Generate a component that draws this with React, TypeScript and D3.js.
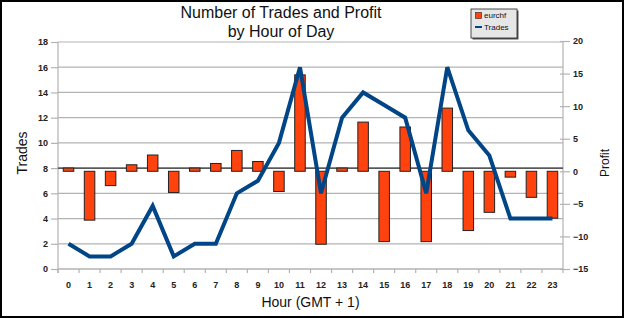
import { useEffect, useRef } from "react";
import * as d3 from "d3";

const hours = d3.range(0, 24).map(String);
const trades = [2, 1, 1, 2, 5, 1, 2, 2, 6, 7, 10, 16, 6, 12, 14, 13, 12, 6, 16, 11, 9, 4, 4, 4];
const profit = [
  0.5, -7.5, -2.2, 1, 2.5, -3.25, 0.5, 1.2, 3.2, 1.5, -3.1, 14.8, -11.2, 0.5, 7.55, -10.8, 6.8,
  -10.8, 9.7, -9.1, -6.3, -0.9, -4.0, -7.2,
];
const tradeTicks = d3.range(0, 19, 2);
const profitTicks = [-15, -10, -5, 0, 5, 10, 15, 20];

const width = 625;
const height = 318;
const margin = { top: 42, right: 62, bottom: 49, left: 58 };

const BAR_COLOR = "#ff420e";
const LINE_COLOR = "#004586";
const GRID = "#b3b3b3";
const FONT = "'Liberation Sans', Arial, sans-serif";

const App = () => {
  const svgRef = useRef<SVGSVGElement | null>(null);

  useEffect(() => {
    const svg = d3.select(svgRef.current);
    svg.selectAll("*").remove();

    const x0 = margin.left;
    const x1 = width - margin.right;
    const yBottom = height - margin.bottom;

    const x = d3.scaleBand().domain(hours).range([x0, x1]).paddingInner(0.5).paddingOuter(0.25);
    const xEdges = d3.scaleBand().domain(hours).range([x0, x1]);
    const yTrades = d3.scaleLinear().domain([0, 18]).range([yBottom, margin.top]);
    const yProfit = d3.scaleLinear().domain([-15, 20]).range([yBottom, margin.top - 1]);

    svg.append("rect").attr("width", width).attr("height", height).attr("fill", "white");

    // horizontal grid
    svg
      .append("g")
      .selectAll("line")
      .data(tradeTicks)
      .join("line")
      .attr("x1", x0)
      .attr("x2", x1)
      .attr("y1", (d) => yTrades(d))
      .attr("y2", (d) => yTrades(d))
      .attr("stroke", GRID)
      .attr("stroke-width", 1.2);

    // axis frame lines
    svg
      .append("line")
      .attr("x1", x0)
      .attr("x2", x0)
      .attr("y1", margin.top)
      .attr("y2", yBottom + 4)
      .attr("stroke", GRID)
      .attr("stroke-width", 1.2);
    svg
      .append("line")
      .attr("x1", x1)
      .attr("x2", x1)
      .attr("y1", margin.top)
      .attr("y2", yBottom + 4)
      .attr("stroke", GRID)
      .attr("stroke-width", 1.2);

    // left axis
    svg
      .append("g")
      .attr("transform", `translate(${x0},0)`)
      .call(d3.axisLeft(yTrades).tickValues(tradeTicks).tickSize(7).tickPadding(3))
      .call((g) => {
        g.select(".domain").remove();
        g.selectAll(".tick line").attr("stroke", GRID).attr("stroke-width", 1.2);
        g.selectAll("text")
          .attr("fill", "#222")
          .style("font-family", FONT)
          .style("font-size", "9px")
          .style("font-weight", "bold");
      });

    // right axis
    svg
      .append("g")
      .attr("transform", `translate(${x1},0)`)
      .call(d3.axisRight(yProfit).tickValues(profitTicks).tickSize(7).tickPadding(3))
      .call((g) => {
        g.select(".domain").remove();
        g.selectAll(".tick line").attr("stroke", GRID).attr("stroke-width", 1.2).attr("x1", -3);
        g.selectAll("text")
          .attr("fill", "#222")
          .style("font-family", FONT)
          .style("font-size", "9px")
          .style("font-weight", "bold");
      });

    // bottom axis
    svg
      .append("line")
      .attr("x1", x0)
      .attr("x2", x1)
      .attr("y1", yBottom)
      .attr("y2", yBottom)
      .attr("stroke", GRID)
      .attr("stroke-width", 1.2);
    svg
      .append("g")
      .selectAll("line")
      .data(hours)
      .join("line")
      .attr("x1", (d) => xEdges(d) ?? 0)
      .attr("x2", (d) => xEdges(d) ?? 0)
      .attr("y1", yBottom)
      .attr("y2", yBottom + 4)
      .attr("stroke", GRID)
      .attr("stroke-width", 1.2);
    svg
      .append("g")
      .selectAll("text")
      .data(hours)
      .join("text")
      .attr("x", (d) => (x(d) ?? 0) + x.bandwidth() / 2)
      .attr("y", yBottom + 19)
      .attr("text-anchor", "middle")
      .attr("fill", "#222")
      .style("font-family", FONT)
      .style("font-size", "9px")
      .style("font-weight", "bold")
      .text((d) => d);

    // dark reference line at 8 trades
    svg
      .append("line")
      .attr("x1", x0)
      .attr("x2", x1)
      .attr("y1", yTrades(8))
      .attr("y2", yTrades(8))
      .attr("stroke", "#333")
      .attr("stroke-width", 1.2);

    // profit bars
    svg
      .append("g")
      .selectAll("rect")
      .data(profit)
      .join("rect")
      .attr("x", (_, i) => x(hours[i]) ?? 0)
      .attr("y", (d) => yProfit(Math.max(0, d)))
      .attr("width", x.bandwidth())
      .attr("height", (d) => Math.abs(yProfit(d) - yProfit(0)))
      .attr("fill", BAR_COLOR)
      .attr("stroke", "#222")
      .attr("stroke-width", 1);

    // trades line
    const line = d3
      .line<number>()
      .x((_, i) => (x(hours[i]) ?? 0) + x.bandwidth() / 2)
      .y((d) => yTrades(d));
    svg
      .append("path")
      .datum(trades)
      .attr("d", line)
      .attr("fill", "none")
      .attr("stroke", LINE_COLOR)
      .attr("stroke-width", 4)
      .attr("stroke-linejoin", "miter")
      .attr("stroke-miterlimit", 4);

    // titles
    const title = svg
      .append("text")
      .attr("text-anchor", "middle")
      .attr("fill", "#111")
      .style("font-family", FONT)
      .style("font-size", "16px");
    title.append("tspan").attr("x", 281).attr("y", 18).text("Number of Trades and Profit");
    title.append("tspan").attr("x", 281).attr("y", 37).text("by Hour of Day");

    svg
      .append("text")
      .attr("x", (x0 + x1) / 2)
      .attr("y", 307)
      .attr("text-anchor", "middle")
      .attr("fill", "#111")
      .style("font-family", FONT)
      .style("font-size", "14px")
      .text("Hour (GMT + 1)");

    svg
      .append("text")
      .attr("transform", "translate(27,153) rotate(-90)")
      .attr("text-anchor", "middle")
      .attr("fill", "#111")
      .style("font-family", FONT)
      .style("font-size", "14px")
      .text("Trades");

    svg
      .append("text")
      .attr("transform", "translate(609,163) rotate(-90)")
      .attr("text-anchor", "middle")
      .attr("fill", "#111")
      .style("font-family", FONT)
      .style("font-size", "12px")
      .text("Profit");

    // legend
    const legend = svg.append("g").attr("transform", "translate(471,9)");
    legend.append("rect").attr("x", 1.5).attr("y", 1.5).attr("width", 46).attr("height", 29).attr("fill", "#555");
    legend
      .append("rect")
      .attr("width", 46)
      .attr("height", 29)
      .attr("fill", "#e6e6e6")
      .attr("stroke", "#222")
      .attr("stroke-width", 0.8);
    legend
      .append("rect")
      .attr("x", 4.5)
      .attr("y", 3.5)
      .attr("width", 6)
      .attr("height", 6)
      .attr("fill", BAR_COLOR)
      .attr("stroke", "#222")
      .attr("stroke-width", 0.6);
    legend
      .append("line")
      .attr("x1", 4)
      .attr("x2", 11)
      .attr("y1", 18)
      .attr("y2", 18)
      .attr("stroke", LINE_COLOR)
      .attr("stroke-width", 2);
    legend
      .selectAll("text.lbl")
      .data(["eurchf", "Trades"])
      .join("text")
      .attr("class", "lbl")
      .attr("x", 13)
      .attr("y", (_, i) => 9 + i * 12)
      .attr("fill", "#111")
      .style("font-family", FONT)
      .style("font-size", "8px")
      .text((d) => d);

    // outer frame
    svg
      .append("rect")
      .attr("x", 1)
      .attr("y", 1)
      .attr("width", width - 3)
      .attr("height", height - 2)
      .attr("fill", "none")
      .attr("stroke", "#000")
      .attr("stroke-width", 2);
  }, []);

  return (
    <svg
      ref={svgRef}
      width={width}
      height={height}
      style={{ position: "absolute", left: 0, top: 0, display: "block" }}
    />
  );
};

export default App;
